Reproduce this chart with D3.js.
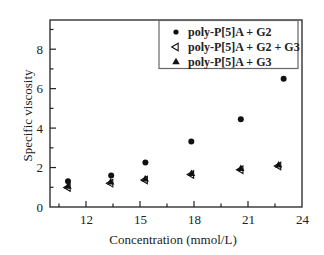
<!DOCTYPE html>
<html><head><meta charset="utf-8">
<script src="https://cdn.jsdelivr.net/npm/d3@7"></script>
<style>body{margin:0;background:#fff}svg{display:block}</style>
</head><body>
<svg id="c" width="324" height="255"></svg>
<script>
const xG2 = [11.0, 13.4, 15.3, 17.85, 20.6, 22.98];
const yG2 = [1.3, 1.6, 2.26, 3.32, 4.45, 6.5];
const xG23 = [11.0, 13.37, 15.29, 17.86, 20.6, 22.7];
const yG23 = [0.99, 1.21, 1.37, 1.65, 1.89, 2.08];
const xG3 = [11.0, 13.37, 15.29, 17.86, 20.6, 22.7];
const yG3 = [1.04, 1.25, 1.4, 1.68, 1.94, 2.11];
const xTicks = [12, 15, 18, 21, 24];
const yTicks = [0, 2, 4, 6, 8];
const legendLabels = ["poly-P[5]A + G2", "poly-P[5]A + G2 + G3", "poly-P[5]A + G3"];

const svg = d3.select("#c");
const L = 50, R = 302, T = 20, B = 207;
const x = d3.scaleLinear().domain([10, 24]).range([L, R]);
const y = d3.scaleLinear().domain([0, 9.48]).range([B, T]);
const font = "'Liberation Serif', 'Times New Roman', serif";

svg.append("rect").attr("x", L).attr("y", T).attr("width", R - L).attr("height", B - T)
  .attr("fill", "none").attr("stroke", "#222").attr("stroke-width", 1.3);

const xa = svg.append("g").attr("transform", `translate(0,${B})`)
  .call(d3.axisBottom(x).tickValues(xTicks).tickSize(0).tickPadding(8));
xa.select(".domain").remove();
xa.selectAll("text").attr("font-family", font).attr("font-size", 13).attr("fill", "#222");
const xMinor = d3.range(10.5, 24, 1.5);
svg.append("g").selectAll("line").data(xMinor).join("line")
  .attr("x1", d => x(d)).attr("x2", d => x(d)).attr("y1", B).attr("y2", d => (Math.abs((d - 12) % 3) < 0.01 ? B - 6 : B - 3.5))
  .attr("stroke", "#222").attr("stroke-width", 1.2);

const ya = svg.append("g").attr("transform", `translate(${L},0)`)
  .call(d3.axisLeft(y).tickValues(yTicks).tickSize(0).tickPadding(7));
ya.select(".domain").remove();
ya.selectAll("text").attr("font-family", font).attr("font-size", 13).attr("fill", "#222");
const yMinor = d3.range(1, 10, 1);
svg.append("g").selectAll("line").data(yMinor).join("line")
  .attr("x1", L).attr("x2", d => (d % 2 === 0 ? L + 6 : L + 3.5)).attr("y1", d => y(d)).attr("y2", d => y(d))
  .attr("stroke", "#222").attr("stroke-width", 1.2);

svg.append("text").attr("x", (L + R) / 2 - 3).attr("y", 244).attr("text-anchor", "middle")
  .attr("font-family", font).attr("font-size", 13).attr("fill", "#222").text("Concentration (mmol/L)");
svg.append("text").attr("transform", `translate(32,${(T + B) / 2 + 2}) rotate(-90)`).attr("text-anchor", "middle")
  .attr("font-family", font).attr("font-size", 13).attr("fill", "#222").text("Specific viscosity");

const triUp = d3.symbol().type(d3.symbolTriangle).size(24);
const g = svg.append("g");
g.selectAll("path.g3").data(xG3.map((v, i) => [v, yG3[i]])).join("path")
  .attr("transform", d => `translate(${x(d[0])},${y(d[1])})`).attr("d", triUp()).attr("fill", "#111");
g.selectAll("path.g23").data(xG23.map((v, i) => [v, yG23[i]])).join("path")
  .attr("transform", d => `translate(${x(d[0])},${y(d[1])}) rotate(-90)`).attr("d", triUp())
  .attr("fill", "none").attr("stroke", "#111").attr("stroke-width", 1.1);
g.selectAll("circle").data(xG2.map((v, i) => [v, yG2[i]])).join("circle")
  .attr("cx", d => x(d[0])).attr("cy", d => y(d[1])).attr("r", 3).attr("fill", "#111");

const lg = svg.append("g");
lg.append("rect").attr("x", 159).attr("y", 20.5).attr("width", 139).attr("height", 48)
  .attr("fill", "#fff").attr("stroke", "#666").attr("stroke-width", 1.2);
const rows = [32, 47, 62];
legendLabels.forEach((t, i) => {
  lg.append("text").attr("x", 188).attr("y", rows[i] + 4).attr("font-family", font)
    .attr("font-weight", "bold").attr("font-size", 12).attr("fill", "#222").text(t);
});
lg.append("circle").attr("cx", 176).attr("cy", rows[0]).attr("r", 2.6).attr("fill", "#111");
lg.append("path").attr("transform", `translate(176,${rows[1]}) rotate(-90)`).attr("d", triUp())
  .attr("fill", "none").attr("stroke", "#111").attr("stroke-width", 1.1);
lg.append("path").attr("transform", `translate(176,${rows[2]})`).attr("d", triUp()).attr("fill", "#111");
</script>
</body></html>
